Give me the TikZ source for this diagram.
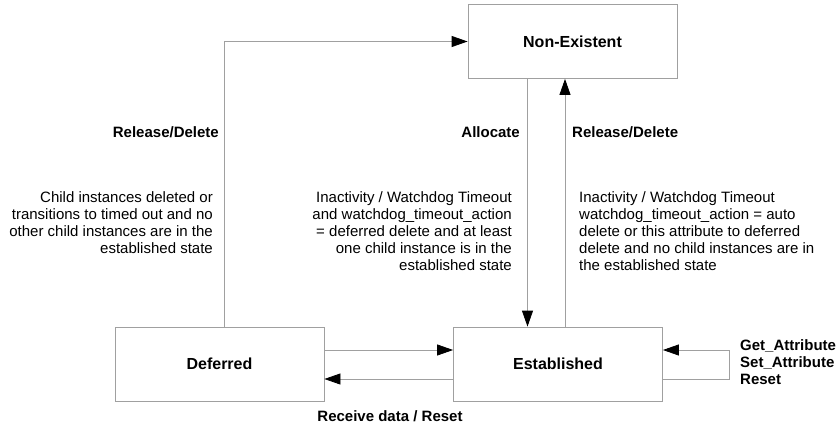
\documentclass[tikz,border=0pt]{standalone}
\usepackage{fontspec}
\setmainfont{Liberation Sans}
\usepackage{tikz}
\usetikzlibrary{arrows.meta,calc}
\definecolor{linegray}{HTML}{A0A0A0}

\begin{document}
\begin{tikzpicture}
[x = 1pt, y = -1pt, font = \fontsize{15}{17}\selectfont]
\tikzset{
	state node/.style = {draw = linegray, line width = 0.8pt, minimum width = 209pt, minimum height = 74pt, font = \fontsize{16}{18}\selectfont\bfseries},
	event node/.style = {inner sep = 0, font = \fontsize{15}{17}\selectfont\bfseries},
	guard node/.style = {inner sep = 0},
	move/.style = {draw = linegray, line width = 0.8pt, -{Triangle[length = 16pt, width = 11pt, color = black]}},
}
\useasboundingbox (0,0) rectangle (837,428);

\node(nonex)[state node] at (572.5,41.5) {Non-Existent};
\node(defer)[state node] at (219.5,364) {Deferred};
\node(estab)[state node] at (558,364) {Established};

\draw [move] ([xshift = 5]defer.north) |- (nonex.west);
\draw [move] ([xshift = -45]nonex.south) -- ([xshift = -45]nonex.south |- estab.north);
\draw [move] ([xshift = 7]estab.north) -- ([xshift = 7]estab.north |- nonex.south);
\draw [move] ([yshift = 14]defer.east) -- ([yshift = 14]estab.west);
\draw [move] ([yshift = -15]estab.west) -- ([yshift = -15]defer.east);
\draw [move] ([yshift = -15]estab.east) -- ++(66,0) |- ([yshift = 14]estab.east);

\node(rel1)[event node, anchor = east] at (219,132) {Release/Delete};
\node(why1)[guard node, anchor = north east, align = right] at (213,191)
	{Child instances deleted or\\transitions to timed out and no\\other child instances are in the\\established state};
\node(alloc)[event node, anchor = east] at (520,132) {Allocate};
\node(why2)[guard node, anchor = north east, align = right] at (512,191)
	{Inactivity / Watchdog Timeout\\and watchdog\_timeout\_action\\= deferred delete and at least\\one child instance is in the\\established state};
\node(rel2)[event node, anchor = west] at (572,132) {Release/Delete};
\node(why3)[guard node, anchor = north west, align = left] at (579,191)
	{Inactivity / Watchdog Timeout\\watchdog\_timeout\_action = auto\\delete or this attribute to deferred\\delete and no child instances are in\\the established state};
\node(recv)[event node] at (390,416) {Receive data / Reset};
\node(attr)[event node, anchor = north west, align = left] at (740,339.5)
	{Get\_Attribute\\Set\_Attribute\\Reset};

\end{tikzpicture}
\end{document}
